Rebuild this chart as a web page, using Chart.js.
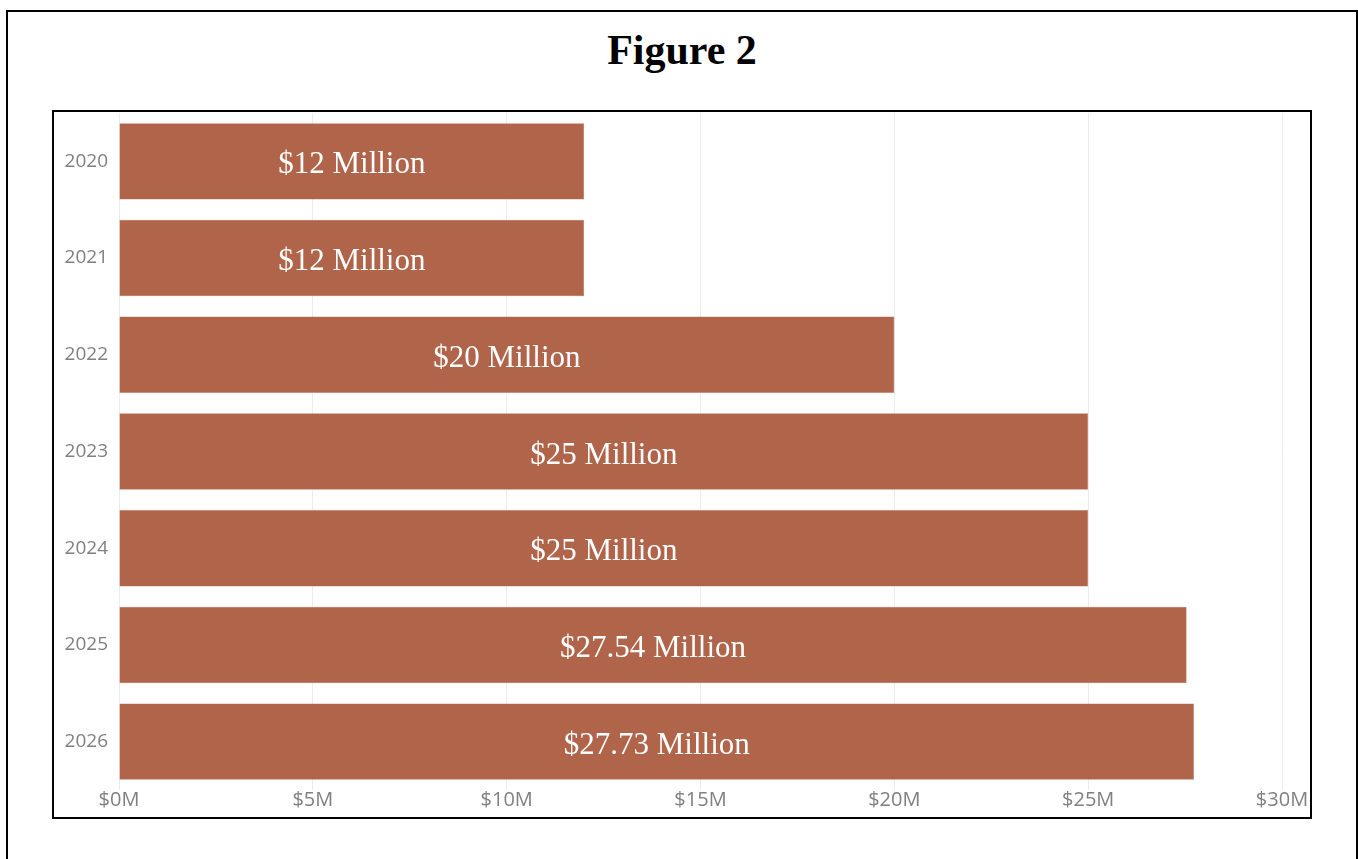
<!DOCTYPE html>
<html>
<head>
<meta charset="utf-8">
<script src="https://cdn.jsdelivr.net/npm/chart.js@4.4.1/dist/chart.umd.min.js"></script>
<style>
  body { margin: 0; background: #fff; width: 1358px; height: 859px; overflow: hidden; position: relative; }
  .outer { position: absolute; left: 6px; top: 10px; width: 1348px; height: 900px; border: 2px solid #000; }
  .title { position: absolute; left: 6px; top: 26px; width: 1352px; text-align: center;
           font: bold 42px "Liberation Serif", "Times New Roman", serif; color: #000; line-height: 48px; margin: 0; }
  .inner { position: absolute; left: 52px; top: 110px; width: 1256px; height: 705px; border: 2px solid #000; background: #fff; }
  #chart { display: block; }
</style>
</head>
<body>
<div class="outer"></div>
<h1 class="title">Figure 2</h1>
<div class="inner"><canvas id="chart" width="1256" height="705"></canvas></div>
<script>
const years = ['2020', '2021', '2022', '2023', '2024', '2025', '2026'];
const funding = [12, 12, 20, 25, 25, 27.54, 27.73];
const barLabels = ['$12 Million', '$12 Million', '$20 Million', '$25 Million', '$25 Million', '$27.54 Million', '$27.73 Million'];
const xTicks = [0, 5, 10, 15, 20, 25, 30];

// draws the white value text in the middle of each bar
const barText = {
    id: 'barText',
    afterDatasetsDraw(chart) {
        const ctx = chart.ctx;
        const meta = chart.getDatasetMeta(0);
        ctx.save();
        ctx.fillStyle = '#ffffff';
        ctx.font = '31px "Liberation Serif", "Times New Roman", serif';
        ctx.textAlign = 'center';
        ctx.textBaseline = 'alphabetic';
        meta.data.forEach((bar, i) => {
            const cx = (bar.base + bar.x) / 2;
            ctx.fillText(barLabels[i], cx, bar.y + 12);
        });
        ctx.restore();
    }
};

const ctx = document.getElementById('chart').getContext('2d');

new Chart(ctx, {
    type: 'bar',
    data: {
        labels: years,
        datasets: [{
            data: funding,
            backgroundColor: '#b0644a',
            borderColor: '#c07a60',
            borderWidth: 0.5,
            barPercentage: 0.79,
            categoryPercentage: 1.0
        }]
    },
    options: {
        indexAxis: 'y',
        responsive: false,
        animation: false,
        layout: { padding: { top: 1, right: 28, bottom: 0, left: 0 } },
        plugins: {
            legend: { display: false },
            tooltip: { enabled: false }
        },
        scales: {
            x: {
                min: 0,
                max: 30,
                afterBuildTicks: scale => { scale.ticks = xTicks.map(v => ({ value: v })); },
                afterFit: scale => {
                    scale.height = 27;
                    scale.paddingLeft = 0;
                    scale.paddingRight = 0;
                },
                border: { display: false },
                grid: { color: '#ececec', lineWidth: 1, drawTicks: false },
                ticks: {
                    padding: -2,
                    color: '#808080',
                    font: { family: '"Open Sans", "Segoe UI", sans-serif', size: 20 },
                    maxRotation: 0,
                    callback: v => '$' + v + 'M'
                }
            },
            y: {
                afterFit: scale => {
                    scale.width = 65;
                    scale.paddingTop = 0;
                    scale.paddingBottom = 0;
                },
                border: { display: false },
                grid: { display: false, drawTicks: false },
                ticks: {
                    padding: 11,
                    color: '#808080',
                    font: { family: '"Open Sans", "Segoe UI", sans-serif', size: 19 }
                }
            }
        }
    },
    plugins: [barText]
});
</script>
</body>
</html>
